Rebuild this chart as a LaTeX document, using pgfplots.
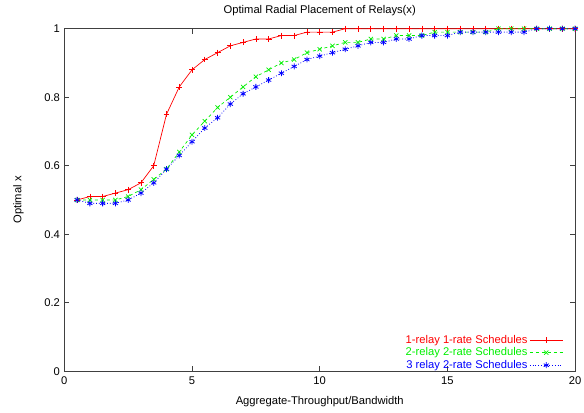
\documentclass[border=0pt]{standalone}
\usepackage{fontspec}
\setmainfont{Liberation Sans}
\usepackage{pgfplots}
\pgfplotsset{compat=1.18}

\definecolor{gpred}{RGB}{255,0,0}
\definecolor{gpgreen}{RGB}{0,240,0}
\definecolor{gpblue}{RGB}{0,0,255}

\begin{document}
\begin{tikzpicture}
  \begin{axis}[
      name=ax,
      scale only axis,
      width=516pt,
      height=346pt,
      xmin=0, xmax=20,
      ymin=0, ymax=1,
      xtick={0,5,10,15,20},
      ytick={0,0.2,0.4,0.6,0.8,1},
      yticklabels={0,0.2,0.4,0.6,0.8,1},
      tick align=inside,
      tick pos=both,
      major tick length=5pt,
      axis line style={black!75, line width=0.8pt},
      tick style={black!75, line width=0.8pt},
      font=\fontsize{11.3}{13}\selectfont,
      /pgf/number format/assume math mode=true,
      xticklabel style={yshift=-2pt},
      yticklabel style={xshift=-1pt},
      title={Optimal Radial Placement of Relays(x)},
      title style={yshift=3pt},
      xlabel={Aggregate-Throughput/Bandwidth},
      ylabel={Optimal x},
      xlabel style={yshift=-5pt},
      ylabel style={yshift=14pt},
      legend plot pos=right,
      legend cell align=right,
      legend style={
          draw=none, fill=none,
          font=\fontsize{11.3}{11.5}\selectfont,
          at={(axis description cs:1,0)},
          anchor=south east,
          xshift=-9pt, yshift=-3pt,
          row sep=-1pt,
          /tikz/every even column/.append style={column sep=4pt}
      },
      legend image code/.code={
          \draw[#1, mark repeat=2, mark phase=2] plot coordinates {(0cm,0cm) (0.58cm,0cm) (1.16cm,0cm)};
      },
  ]

  % --- 1-relay 1-rate ---
  \addplot[gpred, line width=0.7pt, mark=+, mark size=3pt, mark options={solid}] coordinates {
  (0.5,0.50) (1.0,0.51) (1.5,0.51) (2.0,0.52) (2.5,0.53) (3.0,0.55) (3.5,0.60) (4.0,0.75)
  (4.5,0.83) (5.0,0.88) (5.5,0.91) (6.0,0.93) (6.5,0.95) (7.0,0.96) (7.5,0.97) (8.0,0.97)
  (8.5,0.98) (9.0,0.98) (9.5,0.99) (10.0,0.99) (10.5,0.99) (11.0,1.00) (11.5,1.00) (12.0,1.00)
  (12.5,1.00) (13.0,1.00) (13.5,1.00) (14.0,1.00) (14.5,1.00) (15.0,1.00) (15.5,1.00) (16.0,1.00)
  (16.5,1.00) (17.0,1.00) (17.5,1.00) (18.0,1.00) (18.5,1.00) (19.0,1.00) (19.5,1.00) (20.0,1.00)
  };
  \addlegendentry{\textcolor{gpred}{1-relay 1-rate Schedules}}

  % --- 2-relay 2-rate ---
  \addplot[gpgreen, line width=0.7pt, dashed, mark=x, mark size=3pt, mark options={solid}] coordinates {
  (0.5,0.50) (1.0,0.50) (1.5,0.50) (2.0,0.50) (2.5,0.51) (3.0,0.53) (3.5,0.56) (4.0,0.59)
  (4.5,0.64) (5.0,0.69) (5.5,0.73) (6.0,0.77) (6.5,0.80) (7.0,0.83) (7.5,0.86) (8.0,0.88)
  (8.5,0.90) (9.0,0.91) (9.5,0.93) (10.0,0.94) (10.5,0.95) (11.0,0.96) (11.5,0.96) (12.0,0.97)
  (12.5,0.97) (13.0,0.98) (13.5,0.98) (14.0,0.98) (14.5,0.99) (15.0,0.99) (15.5,0.99) (16.0,0.99)
  (16.5,0.99) (17.0,1.00) (17.5,1.00) (18.0,1.00) (18.5,1.00) (19.0,1.00) (19.5,1.00) (20.0,1.00)
  };
  \addlegendentry{\textcolor{gpgreen}{2-relay 2-rate Schedules}}

  % --- 3 relay 2-rate ---
  \addplot[gpblue, line width=0.8pt, dotted, mark=asterisk, mark size=3pt, mark options={solid}] coordinates {
  (0.5,0.50) (1.0,0.49) (1.5,0.49) (2.0,0.49) (2.5,0.50) (3.0,0.52) (3.5,0.55) (4.0,0.59)
  (4.5,0.63) (5.0,0.67) (5.5,0.71) (6.0,0.74) (6.5,0.78) (7.0,0.81) (7.5,0.83) (8.0,0.85)
  (8.5,0.87) (9.0,0.89) (9.5,0.91) (10.0,0.92) (10.5,0.93) (11.0,0.94) (11.5,0.95) (12.0,0.96)
  (12.5,0.96) (13.0,0.97) (13.5,0.97) (14.0,0.98) (14.5,0.98) (15.0,0.98) (15.5,0.99) (16.0,0.99)
  (16.5,0.99) (17.0,0.99) (17.5,0.99) (18.0,0.99) (18.5,1.00) (19.0,1.00) (19.5,1.00) (20.0,1.00)
  };
  \addlegendentry{\textcolor{gpblue}{3 relay 2-rate Schedules}}

  \end{axis}
  \pgfresetboundingbox
  \path ([shift={(-65pt,-42pt)}]ax.south west) rectangle ([shift={(9pt,29pt)}]ax.north east);
\end{tikzpicture}
\end{document}
